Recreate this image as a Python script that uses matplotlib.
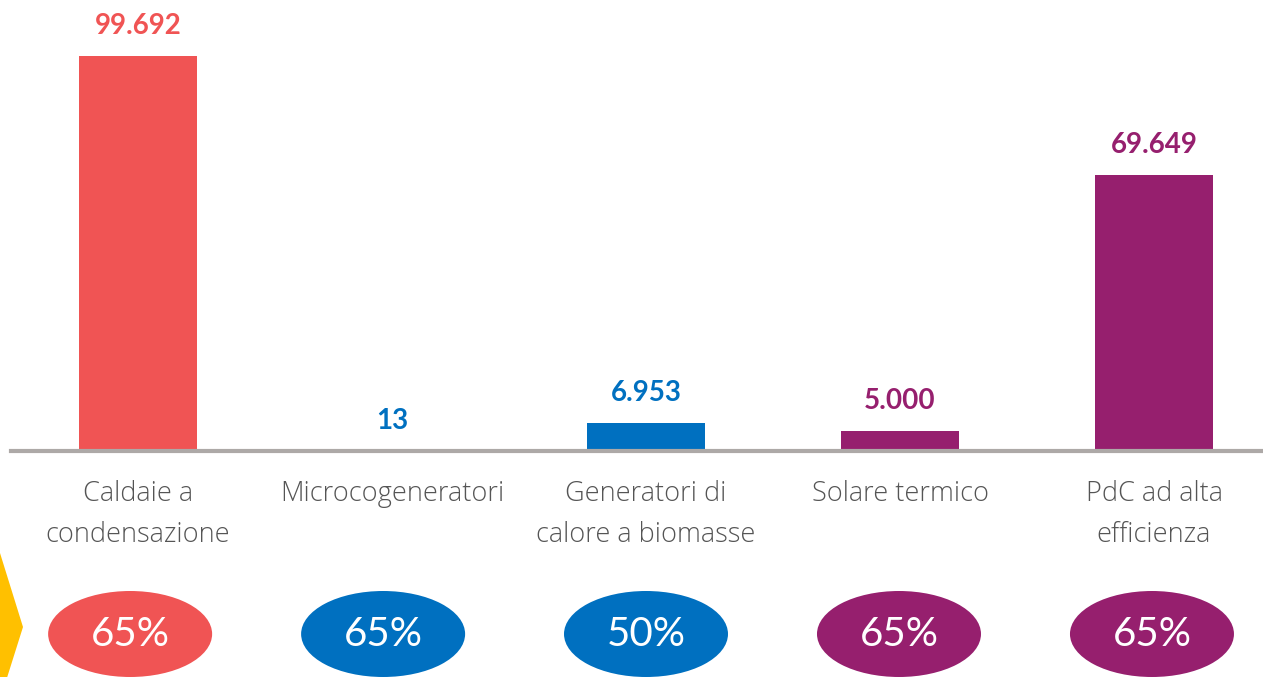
import matplotlib
matplotlib.use("Agg")
import matplotlib.pyplot as plt
from matplotlib.patches import Ellipse, Polygon

# dati
categorie = ["Caldaie a\ncondensazione", "Microcogeneratori", "Generatori di\ncalore a biomasse",
             "Solare termico", "PdC ad alta\nefficienza"]
valori = [99692, 13, 6953, 5000, 69649]
etichette = ["99.692", "13", "6.953", "5.000", "69.649"]
detrazioni = ["65%", "65%", "50%", "65%", "65%"]
colori = ["#F05454", "#0070C0", "#0070C0", "#961F6E", "#961F6E"]

# spostamento orizzontale delle ellissi rispetto alle barre (in unità di categoria)
sposta_ellissi = [-0.031, -0.035, 0.0, -0.004, -0.008]

W, H = 1263, 677
fig = plt.figure(figsize=(W / 100, H / 100), dpi=100)
plt.rcParams['font.family'] = ['Lato', 'DejaVu Sans']

# assi principali: centro barre ogni 254 px, base a y=451
ax = fig.add_axes([11 / W, 226 / H, 1270 / W, 435.8 / H])
x = list(range(len(valori)))
ax.bar(x, valori, width=118 / 254, color=colori, zorder=2)
ax.set_xlim(-0.5, 4.5)
ax.set_ylim(0, 110000)
for s in ["top", "left", "right"]:
    ax.spines[s].set_visible(False)
ax.spines["bottom"].set_color("#ADA9A7")
ax.spines["bottom"].set_linewidth(3)
ax.spines["bottom"].set_zorder(3)
ax.set_xticks([])
ax.set_yticks([])
ax.patch.set_alpha(0)

for i, v in enumerate(valori):
    ax.annotate(etichette[i], xy=(i, v), xytext=(0, 16), textcoords="offset points",
                ha="center", va="baseline", fontsize=20, fontweight="bold", color=colori[i])
    ax.annotate(categorie[i], xy=(i, 0), xytext=(0, -21), textcoords="offset points",
                ha="center", va="top", fontsize=19.5, fontweight="light", color="#555555",
                family=["Open Sans", "DejaVu Sans"], linespacing=1.62)

# ellissi con le percentuali
ax2 = fig.add_axes([11 / W, 0, 1270 / W, 120 / H])
ax2.set_xlim(-0.5, 4.5)
ax2.set_ylim(0, 120)
ax2.axis("off")
for i, p in enumerate(detrazioni):
    cx = i + sposta_ellissi[i]
    ax2.add_patch(Ellipse((cx, 43), 164 / 254, 86, facecolor=colori[i], edgecolor="none"))
    ax2.text(cx, 42, p, ha="center", va="center", fontsize=29, color="white")

# freccia gialla a sinistra
fig.patches.append(Polygon([(0, 1 - 553 / H), (23 / W, 1 - 627 / H), (0, 1 - 700 / H)],
                           closed=True, transform=fig.transFigure, facecolor="#FFC000",
                           edgecolor="none"))

fig.savefig("out.png", dpi=100)
